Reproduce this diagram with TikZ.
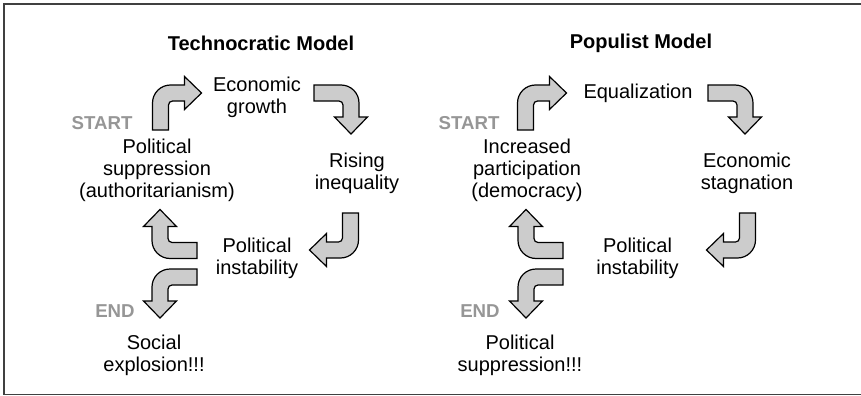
\documentclass[tikz,border=0pt]{standalone}
\usepackage{fontspec}
\setmainfont{Liberation Sans}
\usepackage{tikz}
\definecolor{arrowgray}{RGB}{204,204,204}
\definecolor{markgray}{RGB}{150,150,150}
\definecolor{framegray}{RGB}{64,64,64}
\tikzset{
	% ---- default
	every node/.style={font=\fontsize{15}{16.5}\selectfont, inner sep=0pt, align=center},
	% ---- custom
	outer frame/.style={line width=1.2pt, framegray},
	turnarrow/.style={fill=arrowgray, draw=black, line width=0.9pt, line join=miter},
	model title/.style={font=\fontsize{15}{16.5}\selectfont\bfseries},
	startend/.style={font=\fontsize{14}{16}\selectfont\bfseries, text=markgray},
	bent arrow/.pic={
		\filldraw[turnarrow] (-8,0) -- (-8,27) arc (180:90:18) -- (24,45)
			-- (24,53.5) -- (41,37) -- (24,20.5) -- (24,29) -- (12,29)
			arc (90:180:4) -- (8,0) -- cycle;
	},
}
\begin{document}
\begin{tikzpicture}[x=0.75pt, y=0.75pt]

% frame %{{{2

	\useasboundingbox (0,0) rectangle (861,-396);
	\draw[outer frame] (4,-4) rectangle (880,-394.5);

% coordinates %{{{2

	% technocratic
	\coordinate (TA) at (160.5,-130);
	\coordinate (TB) at (314,-93);
	\coordinate (TC) at (350.5,-213);
	\coordinate (TD) at (197,-250.5);
	\coordinate (TE) at (197,-277);
	% populist
	\coordinate (PA) at (525.5,-130);
	\coordinate (PB) at (708,-93);
	\coordinate (PC) at (747.5,-213);
	\coordinate (PD) at (563,-250.5);
	\coordinate (PE) at (563,-277);

% arrows %{{{2

	\pic at (TA) {bent arrow};
	\pic[rotate=-90] at (TB) {bent arrow};
	\pic[rotate=180] at (TC) {bent arrow};
	\pic[rotate=90] at (TD) {bent arrow};
	\pic[rotate=-90, yscale=-1] at (TE) {bent arrow};

	\pic at (PA) {bent arrow};
	\pic[rotate=-90] at (PB) {bent arrow};
	\pic[rotate=180] at (PC) {bent arrow};
	\pic[rotate=90] at (PD) {bent arrow};
	\pic[rotate=-90, yscale=-1] at (PE) {bent arrow};

% labels, technocratic %{{{2

	\node[model title] (techtitle) at (261,-43) {Technocratic Model};
	\node (growth) at (257,-97) {Economic\\growth};
	\node[startend] (startT) at (102,-123) {START};
	\node (suppress) at (157,-170) {Political\\suppression\\(authoritarianism)};
	\node (inequal) at (357,-173) {Rising\\inequality};
	\node (instabT) at (257,-258) {Political\\instability};
	\node[startend] (endT) at (115,-311) {END};
	\node (explode) at (154,-355) {Social\\explosion!!!};

% labels, populist %{{{2

	\node[model title] (poptitle) at (641,-43) {Populist Model};
	\node (equal) at (638,-93) {Equalization};
	\node[startend] (startP) at (469,-123) {START};
	\node (particip) at (527,-170) {Increased\\participation\\(democracy)};
	\node (stagnate) at (747,-173) {Economic\\stagnation};
	\node (instabP) at (637.5,-258) {Political\\instability};
	\node[startend] (endP) at (480,-311) {END};
	\node (suppressP) at (520,-355) {Political\\suppression!!!};

% closing %{{{2

\end{tikzpicture}
\end{document}
